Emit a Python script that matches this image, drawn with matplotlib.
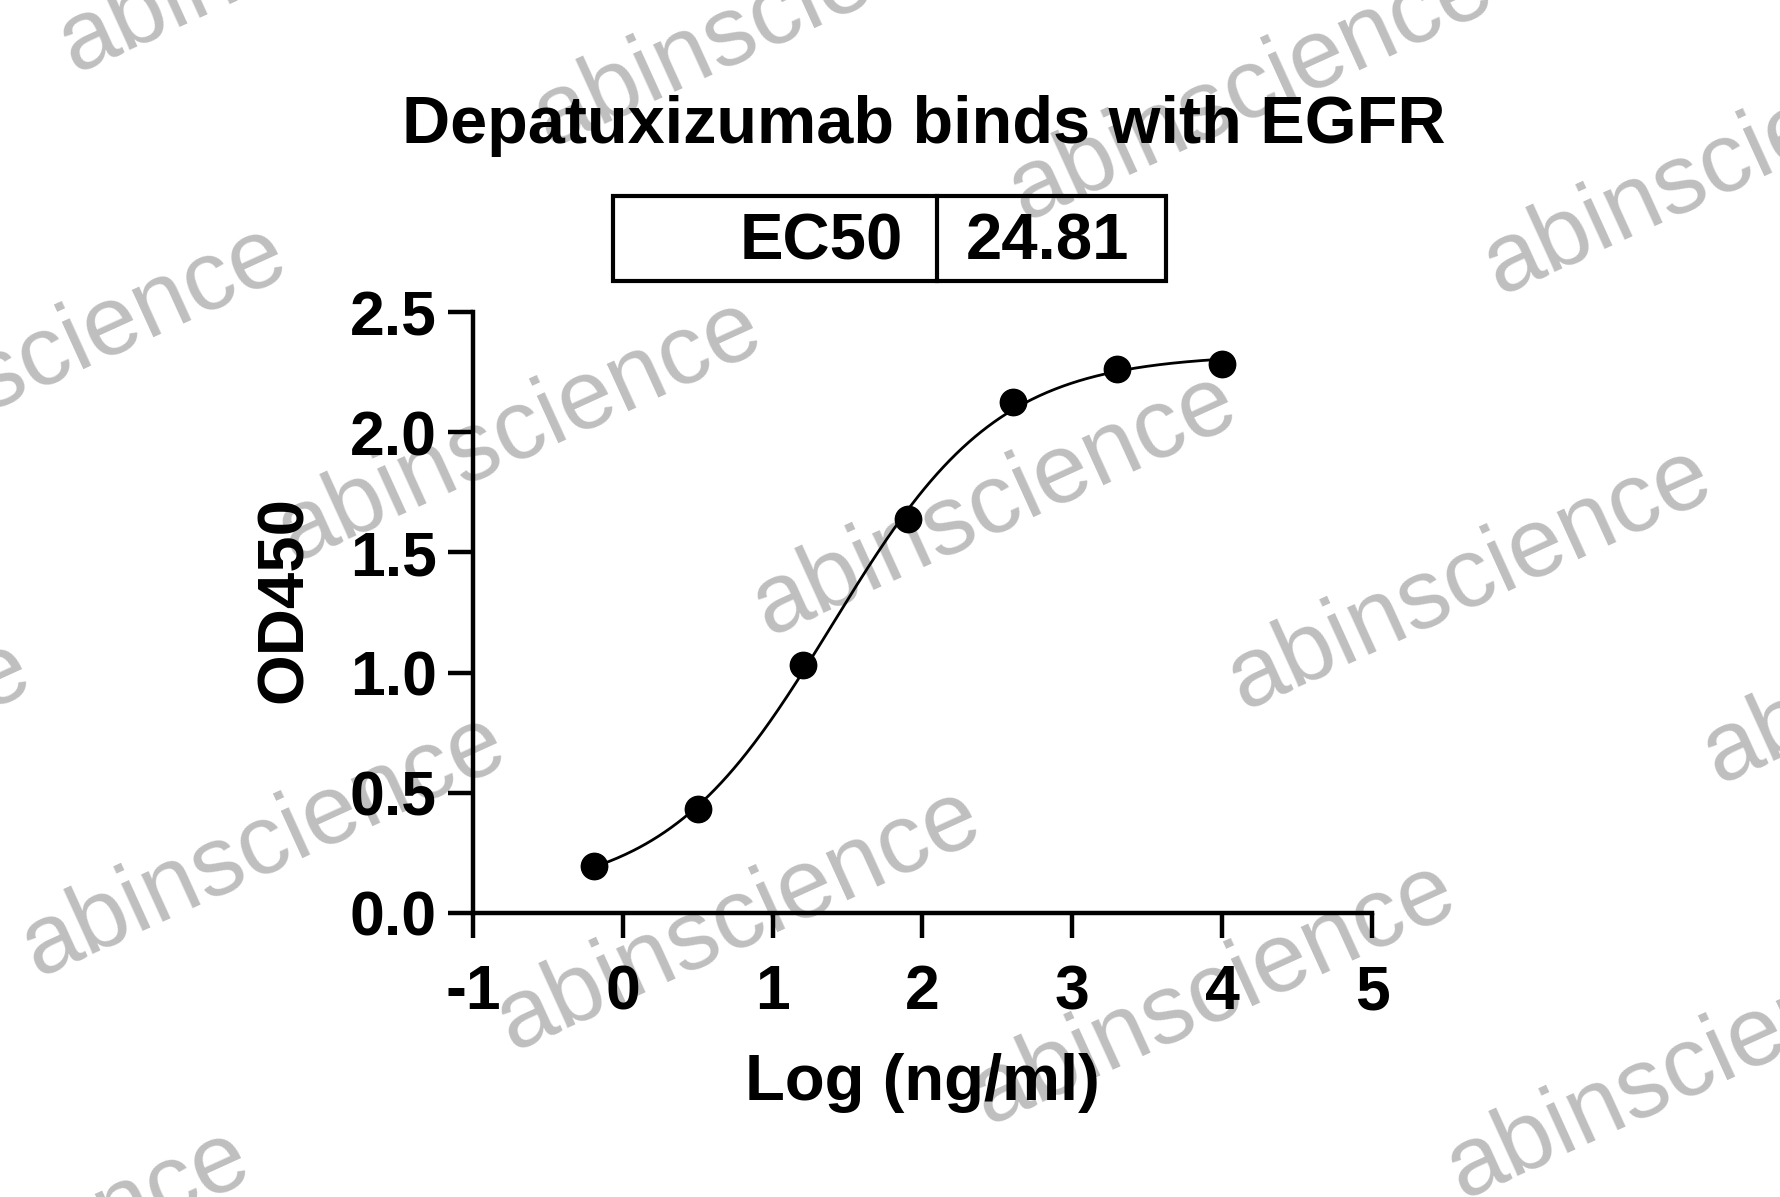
import numpy as np
import matplotlib
matplotlib.use('Agg')
import matplotlib.pyplot as plt
from matplotlib.patches import Rectangle
from matplotlib.lines import Line2D

# data
log_conc = [-0.194, 0.505, 1.204, 1.903, 2.602, 3.301, 4.0]
od450 = [0.196, 0.433, 1.032, 1.640, 2.126, 2.261, 2.285]
ec50 = 24.81

x_ticks = [-1, 0, 1, 2, 3, 4, 5]
y_ticks = [0.0, 0.5, 1.0, 1.5, 2.0, 2.5]

W, H = 1781, 1197
FONT = 'Liberation Sans'


def four_pl(x, bottom, top, log_ec50, hill):
    return bottom + (top - bottom) / (1 + 10 ** ((log_ec50 - x) * hill))


def fit_curve(x, y, log_ec50):
    # hill on a grid, bottom/top by linear least squares (EC50 fixed to reported value)
    x = np.asarray(x)
    y = np.asarray(y)
    best = None
    for hill in np.linspace(0.3, 3.0, 541):
        f = 1 / (1 + 10 ** ((log_ec50 - x) * hill))
        A = np.column_stack([1 - f, f])
        coef = np.linalg.lstsq(A, y, rcond=None)[0]
        err = np.sum((A @ coef - y) ** 2)
        if best is None or err < best[0]:
            best = (err, coef[0], coef[1], hill)
    return best[1:]


def px(x, y):
    # pixel position (from top-left) -> figure fraction
    return x / W, 1 - y / H


fig = plt.figure(figsize=(W / 100, H / 100), dpi=100)
ax = fig.add_axes([473 / W, 1 - 913 / H, (1372 - 473) / W, (913 - 312) / H])
ax.patch.set_visible(False)

log_ec50 = np.log10(ec50)
bottom, top, hill = fit_curve(log_conc, od450, log_ec50)
xs = np.linspace(min(log_conc), max(log_conc), 400)
ax.plot(xs, four_pl(xs, bottom, top, log_ec50, hill), color='black', lw=2, zorder=2)
ax.plot(log_conc, od450, 'o', color='black', ms=19, zorder=3, clip_on=False)

ax.set_xlim(-1, 5)
ax.set_ylim(0, 2.5)
ax.set_xticks(x_ticks)
ax.set_yticks(y_ticks)
ax.set_xticklabels([str(t) for t in x_ticks])
ax.set_yticklabels([f'{t:.1f}' for t in y_ticks])
for s in ['top', 'right']:
    ax.spines[s].set_visible(False)
for s in ['left', 'bottom']:
    ax.spines[s].set_linewidth(3.2)
    ax.spines[s].set_capstyle('projecting')
ax.tick_params(axis='both', length=18, width=3.2, color='black')
ax.tick_params(axis='x', pad=18)
ax.tick_params(axis='y', pad=8)
for lab in ax.get_xticklabels() + ax.get_yticklabels():
    lab.set_fontfamily(FONT)
    lab.set_fontweight('bold')
    lab.set_fontsize(45)

ax.set_xlabel('Log (ng/ml)', fontfamily=FONT, fontweight='bold', fontsize=47, labelpad=22)
ax.set_ylabel('OD450', fontfamily=FONT, fontweight='bold', fontsize=47)
ax.yaxis.set_label_coords(-0.176, 0.521)

# title
fig.text(*px(924, 126), 'Depatuxizumab binds with EGFR', ha='center', va='center',
         fontfamily=FONT, fontweight='bold', fontsize=48)

# EC50 table box
bx0, by0, bx1, by1, bdiv = 613, 196, 1166, 281, 937
fx0, fy0 = px(bx0, by1)
fx1, fy1 = px(bx1, by0)
fig.patches.append(Rectangle((fx0, fy0), fx1 - fx0, fy1 - fy0, transform=fig.transFigure,
                             fill=False, lw=3, edgecolor='black'))
dx, _ = px(bdiv, 0)
fig.lines.append(Line2D([dx, dx], [fy0, fy1], transform=fig.transFigure, color='black', lw=3))
fig.text(*px(903, 243), 'EC50', ha='right', va='center', fontfamily=FONT, fontweight='bold', fontsize=47)
fig.text(*px(1048, 243), f'{ec50:.2f}', ha='center', va='center', fontfamily=FONT,
         fontweight='bold', fontsize=47)

# watermark lattice, drawn beneath the chart
origin = np.array([520.0, 430.0])
va_ = np.array([475.0, 74.0])
vb_ = np.array([-256.0, 415.0])
for i in range(-4, 6):
    for j in range(-3, 5):
        cx, cy = origin + i * va_ + j * vb_
        if -350 < cx < W + 350 and -200 < cy < H + 200:
            fig.text(*px(cx, cy), 'abinscience', ha='center', va='center', rotation=24.5,
                     rotation_mode='anchor', fontfamily=FONT, fontsize=71,
                     color='#bfbfbf', zorder=-1)

fig.savefig('out.png', dpi=100)
